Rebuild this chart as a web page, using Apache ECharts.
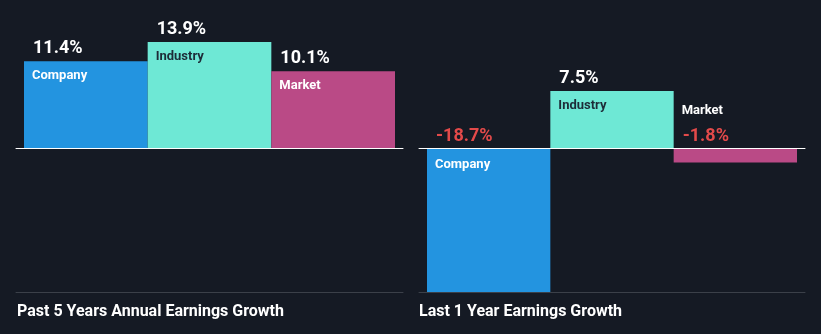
<!DOCTYPE html>
<html><head><meta charset="utf-8">
<script src="https://cdn.jsdelivr.net/npm/echarts@6/dist/echarts.min.js"></script>
<style>html,body{margin:0;padding:0;background:#151a24;}#c{width:821px;height:334px;}</style>
</head><body><div id="c"></div>
<script>
const categories = ['Company', 'Industry', 'Market'];
const past5Years = [11.4, 13.9, 10.1];
const last1Year = [-18.7, 7.5, -1.8];
const panelTitles = ['Past 5 Years Annual Earnings Growth', 'Last 1 Year Earnings Growth'];
const axisMin = -18.7;
const axisMax = 13.9;

const colors = ['#2394e0', '#6ee8d5', '#ba4a86'];
const nameColors = ['#ffffff', '#1d2c38', '#ffffff'];
const BG = '#151a24';
const RED = '#e34a4a';
const FONT = 'Roboto';

const plotTop = 42, plotH = 250;
const pxPerUnit = plotH / (axisMax - axisMin);

const panels = [
  {data: past5Years, barLeft: 24, barW: 371, lineLeft: 16, lineW: 387, titleLeft: 17},
  {data: last1Year, barLeft: 427, barW: 370, lineLeft: 419, lineW: 386, titleLeft: 419}
];

const grid = [], xAxis = [], yAxis = [], series = [];
panels.forEach((p, pi) => {
  const gBar = grid.length;
  grid.push({left: p.barLeft, width: p.barW, top: plotTop, height: plotH});
  grid.push({left: p.lineLeft, width: p.lineW, top: plotTop, height: plotH});
  grid.push({left: p.lineLeft, width: p.lineW, top: plotTop, height: plotH});
  xAxis.push({gridIndex: gBar, type: 'category', data: categories, show: false});
  yAxis.push({gridIndex: gBar, type: 'value', min: axisMin, max: axisMax, show: false});
  xAxis.push({gridIndex: gBar + 1, type: 'value', min: 0, max: 1, z: 10,
    axisLine: {show: true, onZero: true, lineStyle: {color: '#ffffff', width: 1}},
    axisTick: {show: false}, axisLabel: {show: false}, splitLine: {show: false}});
  yAxis.push({gridIndex: gBar + 1, type: 'value', min: axisMin, max: axisMax, show: false});
  xAxis.push({gridIndex: gBar + 2, type: 'value', min: 0, max: 1, z: 10,
    axisLine: {show: true, onZero: false, lineStyle: {color: '#3b4049', width: 1}},
    axisTick: {show: false}, axisLabel: {show: false}, splitLine: {show: false}});
  yAxis.push({gridIndex: gBar + 2, type: 'value', min: axisMin, max: axisMax, show: false});

  const barData = p.data.map((v, i) => {
    const neg = v < 0;
    const small = Math.abs(v) * pxPerUnit < 30;
    let pos;
    if (!neg) pos = [8, 15];
    else if (small) pos = [8, -38];
    else pos = [8, 16];
    return {
      value: v,
      itemStyle: {color: colors[i]},
      label: {show: true, formatter: categories[i], position: pos, align: 'left', verticalAlign: 'middle',
        color: nameColors[i], fontFamily: FONT, fontWeight: 'bold', fontSize: 13}
    };
  });
  const valData = p.data.map((v, i) => {
    const neg = v < 0;
    return {
      value: v,
      label: {show: true, formatter: v.toFixed(1) + '%', position: neg ? [9, -12] : [9, -13],
        align: 'left', verticalAlign: 'middle', color: neg ? RED : '#ffffff',
        fontFamily: FONT, fontWeight: 'bold', fontSize: 18}
    };
  });
  series.push({type: 'bar', xAxisIndex: xAxis.length - 3, yAxisIndex: yAxis.length - 3,
    data: barData, barWidth: '100%', barGap: '-100%', animation: false, silent: true});
  series.push({type: 'bar', xAxisIndex: xAxis.length - 3, yAxisIndex: yAxis.length - 3,
    data: valData, barWidth: '100%', barGap: '-100%', animation: false, silent: true,
    itemStyle: {color: 'rgba(0,0,0,0)'}});
});

const title = panels.map((p, i) => ({
  text: panelTitles[i], left: p.titleLeft, top: 304, padding: 0,
  textStyle: {color: '#ffffff', fontFamily: FONT, fontWeight: 'bold', fontSize: 16}
}));

const chart = echarts.init(document.getElementById('c'), null, {renderer: 'canvas'});
chart.setOption({backgroundColor: BG, animation: false, title, grid, xAxis, yAxis, series});
</script>
</body></html>
